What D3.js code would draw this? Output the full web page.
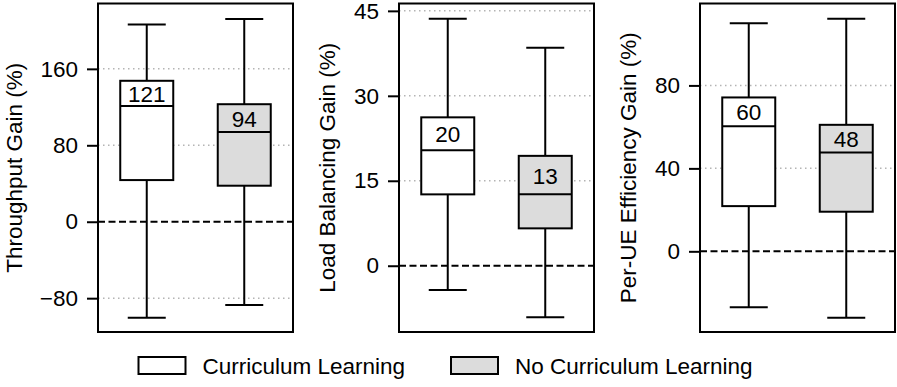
<!DOCTYPE html>
<html>
<head>
<meta charset="utf-8">
<script src="https://cdn.jsdelivr.net/npm/d3@7"></script>
<style>
  body { margin: 0; background: #fff; }
  text { font-family: "Liberation Sans", Arial, sans-serif; fill: #000; }
</style>
</head>
<body>
<svg id="chart" width="897" height="387"></svg>
<script>
// groups shown in every panel
const groups = ['Curriculum Learning', 'No Curriculum Learning'];
const fills = ['#ffffff', '#dcdcdc'];

// box stats per group: [whisker low, q1, median, q3, whisker high]
const throughput = [
  [-100.4, 43.6, 121, 147.5, 206.5],
  [-87.1, 37.7, 94, 123, 212.3]
];
const loadBalancing = [
  [-4.3, 12.6, 20.4, 26.2, 43.6],
  [-9.1, 6.6, 12.6, 19.4, 38.5]
];
const perUE = [
  [-27, 21.8, 60.3, 74.2, 110],
  [-32, 19.1, 47.6, 61, 112.1]
];

const titles = ['Throughput Gain (%)', 'Load Balancing Gain (%)', 'Per-UE Efficiency Gain (%)'];
const domains = [[-115.4, 228.4], [-11.7, 46.3], [-38.9, 119.5]];
const tickVals = [[-80, 0, 80, 160], [0, 15, 30, 45], [0, 40, 80]];

const panels = [
  { stats: throughput, left: 98 },
  { stats: loadBalancing, left: 399 },
  { stats: perUE, left: 700 }
];

const svg = d3.select('#chart');
const plotTop = 3.5, plotBottom = 332, pw = 195;
const boxW = 53, capW = 38;
const fontSize = '22.5px';

panels.forEach((p, i) => {
  const g = svg.append('g').attr('transform', `translate(${p.left},0)`);
  const x = d3.scalePoint().domain(groups).range([0, pw]).padding(0.5);
  const y = d3.scaleLinear().domain(domains[i]).range([plotBottom, plotTop]);

  // grid
  g.append('g').selectAll('line')
    .data(tickVals[i].filter(v => v !== 0))
    .join('line')
    .attr('x1', 0).attr('x2', pw)
    .attr('y1', d => y(d)).attr('y2', d => y(d))
    .attr('stroke', '#b4b4b4')
    .attr('stroke-width', 1.5)
    .attr('stroke-dasharray', '1.5,3.5');

  // zero line
  g.append('line')
    .attr('x1', 0).attr('x2', pw)
    .attr('y1', y(0)).attr('y2', y(0))
    .attr('stroke', '#000')
    .attr('stroke-width', 2)
    .attr('stroke-dasharray', '7,3.5');

  // axis
  const axis = g.append('g')
    .call(d3.axisLeft(y).tickValues(tickVals[i]).tickSize(11).tickPadding(9).tickFormat(d3.format('d')));
  axis.select('.domain').remove();
  axis.selectAll('.tick line').attr('stroke-width', 2);
  axis.selectAll('.tick text')
    .style('font-family', '"Liberation Sans", Arial, sans-serif')
    .style('font-size', fontSize)
    .text(d => d < 0 ? '\u2212' + Math.abs(d) : d);

  // boxes
  const box = g.selectAll('.box')
    .data(p.stats.map((s, j) => ({ s, grp: groups[j], fill: fills[j] })))
    .join('g').attr('class', 'box')
    .attr('transform', d => `translate(${x(d.grp)},0)`);

  box.append('line')
    .attr('x1', 0).attr('x2', 0)
    .attr('y1', d => y(d.s[0])).attr('y2', d => y(d.s[4]))
    .attr('stroke', '#000').attr('stroke-width', 2);
  box.selectAll('.cap')
    .data(d => [d.s[0], d.s[4]])
    .join('line').attr('class', 'cap')
    .attr('x1', -capW / 2).attr('x2', capW / 2)
    .attr('y1', d => y(d)).attr('y2', d => y(d))
    .attr('stroke', '#000').attr('stroke-width', 2);
  box.append('rect')
    .attr('x', -boxW / 2).attr('width', boxW)
    .attr('y', d => y(d.s[3]))
    .attr('height', d => y(d.s[1]) - y(d.s[3]))
    .attr('fill', d => d.fill)
    .attr('stroke', '#000').attr('stroke-width', 2);
  box.append('line')
    .attr('x1', -boxW / 2).attr('x2', boxW / 2)
    .attr('y1', d => y(d.s[2])).attr('y2', d => y(d.s[2]))
    .attr('stroke', '#000').attr('stroke-width', 2);
  box.append('text')
    .attr('text-anchor', 'middle')
    .attr('dominant-baseline', 'central')
    .attr('y', d => (y(d.s[2]) + y(d.s[3])) / 2 + 1)
    .style('font-size', fontSize)
    .text(d => Math.round(d.s[2]));

  // frame
  g.append('rect')
    .attr('x', 0).attr('y', plotTop)
    .attr('width', pw).attr('height', plotBottom - plotTop)
    .attr('fill', 'none')
    .attr('stroke', '#000').attr('stroke-width', 2);

  // y title
  g.append('text')
    .attr('transform', `translate(${[-84, -72, -72][i]},${(plotTop + plotBottom) / 2}) rotate(-90)`)
    .attr('text-anchor', 'middle')
    .attr('dominant-baseline', 'central')
    .style('font-size', fontSize)
    .text(titles[i]);
});

// legend
const legendX = [138.5, 451];
const leg = svg.append('g').selectAll('g')
  .data(groups)
  .join('g')
  .attr('transform', (d, j) => `translate(${legendX[j]},357)`);
leg.append('rect')
  .attr('width', 47).attr('height', 17)
  .attr('fill', (d, j) => fills[j])
  .attr('stroke', '#000').attr('stroke-width', 2);
leg.append('text')
  .attr('x', 64).attr('y', 9)
  .attr('dominant-baseline', 'central')
  .style('font-size', fontSize)
  .text(d => d);
</script>
</body>
</html>
